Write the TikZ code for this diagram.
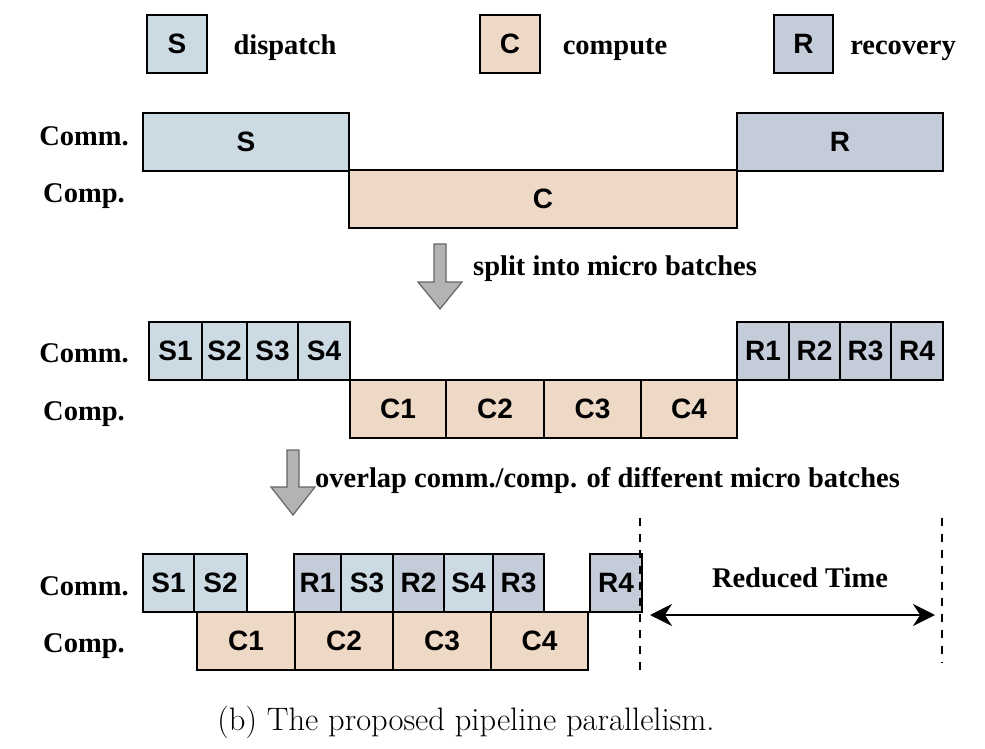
\documentclass[tikz,border=0pt]{standalone}
\usepackage{fontspec}
\setsansfont{Liberation Sans}
\newfontfamily\labelfont{Liberation Serif}
\usepackage{tikz}
\usetikzlibrary{arrows.meta}
\definecolor{dispatchblue}{HTML}{CCDAE3}
\definecolor{computepeach}{HTML}{EED8C6}
\definecolor{recoverygray}{HTML}{C4CCDA}
\definecolor{arrowgray}{HTML}{B3B3B3}
\tikzset{
    slot/.style={draw=black, line width=2pt, inner sep=0pt, anchor=north west,
        minimum height=57.5pt, font=\sffamily\bfseries\fontsize{28}{31}\selectfont},
    dispblk/.style={slot, fill=dispatchblue},
    compblk/.style={slot, fill=computepeach},
    recblk/.style={slot, fill=recoverygray},
    rowlabel/.style={anchor=base, inner sep=0pt, font=\labelfont\bfseries\fontsize{28.5}{31}\selectfont},
    hint/.style={anchor=base west, inner sep=0pt, font=\labelfont\bfseries\fontsize{28.5}{31}\selectfont},
    bigdown/.style={fill=arrowgray, draw=black!60, line width=1.2pt, line join=miter},
    bound/.style={dash pattern=on 8pt off 8pt, line width=2pt},
    gapspan/.style={{Stealth[length=22pt,width=22pt]}-{Stealth[length=22pt,width=22pt]}, line width=2.5pt}
}

\begin{document}
\begin{tikzpicture}[x=1pt,y=-1pt]
\useasboundingbox (0,0) rectangle (985,749);

\node[dispblk, minimum width=60pt, minimum height=58pt] (legS) at (146,14) {S};
\node[rowlabel] (legStext) at (285,55) {dispatch};
\node[compblk, minimum width=60pt, minimum height=58pt] (legC) at (479,14) {C};
\node[rowlabel] (legCtext) at (615,55) {compute};
\node[recblk, minimum width=59pt, minimum height=58pt] (legR) at (773,14) {R};
\node[rowlabel] (legRtext) at (903,55) {recovery};

\node[rowlabel] (commA) at (84,146) {Comm.};
\node[rowlabel] (compA) at (84,202) {Comp.};
\node[dispblk, minimum width=206pt] (seqS) at (142,112) {S};
\node[compblk, minimum width=388pt] (seqC) at (348,169) {C};
\node[recblk, minimum width=206pt] (seqR) at (736,112) {R};

\filldraw[bigdown] (434,244) -- (446,244) -- (446,282) -- (462,282) -- (440,309)
   -- (418,282) -- (434,282) -- cycle;
\node[hint] (splitnote) at (473,275) {split into micro batches};

\node[rowlabel] (commB) at (84,362) {Comm.};
\node[rowlabel] (compB) at (84,420) {Comp.};
\foreach \i/\x/\w in {1/148/53, 2/201/45, 3/246/51, 4/297/52}
   \node[dispblk, minimum width=\w pt] (splitS\i) at (\x,321) {S\i};
\foreach \i/\x/\w in {1/349/96, 2/445/98, 3/543/97, 4/640/96}
   \node[compblk, minimum width=\w pt] (splitC\i) at (\x,379) {C\i};
\foreach \i/\x/\w in {1/736/52, 2/788/51, 3/839/51, 4/890/52}
   \node[recblk, minimum width=\w pt] (splitR\i) at (\x,321) {R\i};

\filldraw[bigdown] (287,450) -- (299,450) -- (299,487) -- (315,487) -- (293,515)
   -- (271,487) -- (287,487) -- cycle;
\node[hint] (overlapnote) at (315,487) {overlap comm./comp. of different micro batches};

\node[rowlabel] (commC) at (84,595) {Comm.};
\node[rowlabel] (compC) at (84,652) {Comp.};
\node[dispblk, minimum width=51pt] (ovS1) at (142,553) {S1};
\node[dispblk, minimum width=53pt] (ovS2) at (193,553) {S2};
\node[recblk, minimum width=47pt] (ovR1) at (293,553) {R1};
\node[dispblk, minimum width=52pt] (ovS3) at (340,553) {S3};
\node[recblk, minimum width=51pt] (ovR2) at (392,553) {R2};
\node[dispblk, minimum width=49pt] (ovS4) at (443,553) {S4};
\node[recblk, minimum width=51pt] (ovR3) at (492,553) {R3};
\node[recblk, minimum width=52pt] (ovR4) at (589,553) {R4};
\foreach \i/\x/\w in {1/196/98, 2/294/98, 3/392/98, 4/490/97}
   \node[compblk, minimum width=\w pt] (ovC\i) at (\x,611) {C\i};

\coordinate (oldtop) at (942,518);
\coordinate (oldbot) at (942,663);
\coordinate (newtop) at (640,518);
\coordinate (newbot) at (640,673);
\draw[bound] (newtop) -- (newbot);
\draw[bound] (oldtop) -- (oldbot);
\coordinate (spanL) at (650,615);
\coordinate (spanR) at (935,615);
\draw[gapspan] (spanL) -- (spanR);
\node[rowlabel] (reduced) at (800,587) {Reduced Time};

\node[anchor=base, inner sep=0pt, font=\fontsize{32.5}{35}\selectfont] (caption) at (466,730)
   {(b) The proposed pipeline parallelism.};
\end{tikzpicture}
\end{document}
